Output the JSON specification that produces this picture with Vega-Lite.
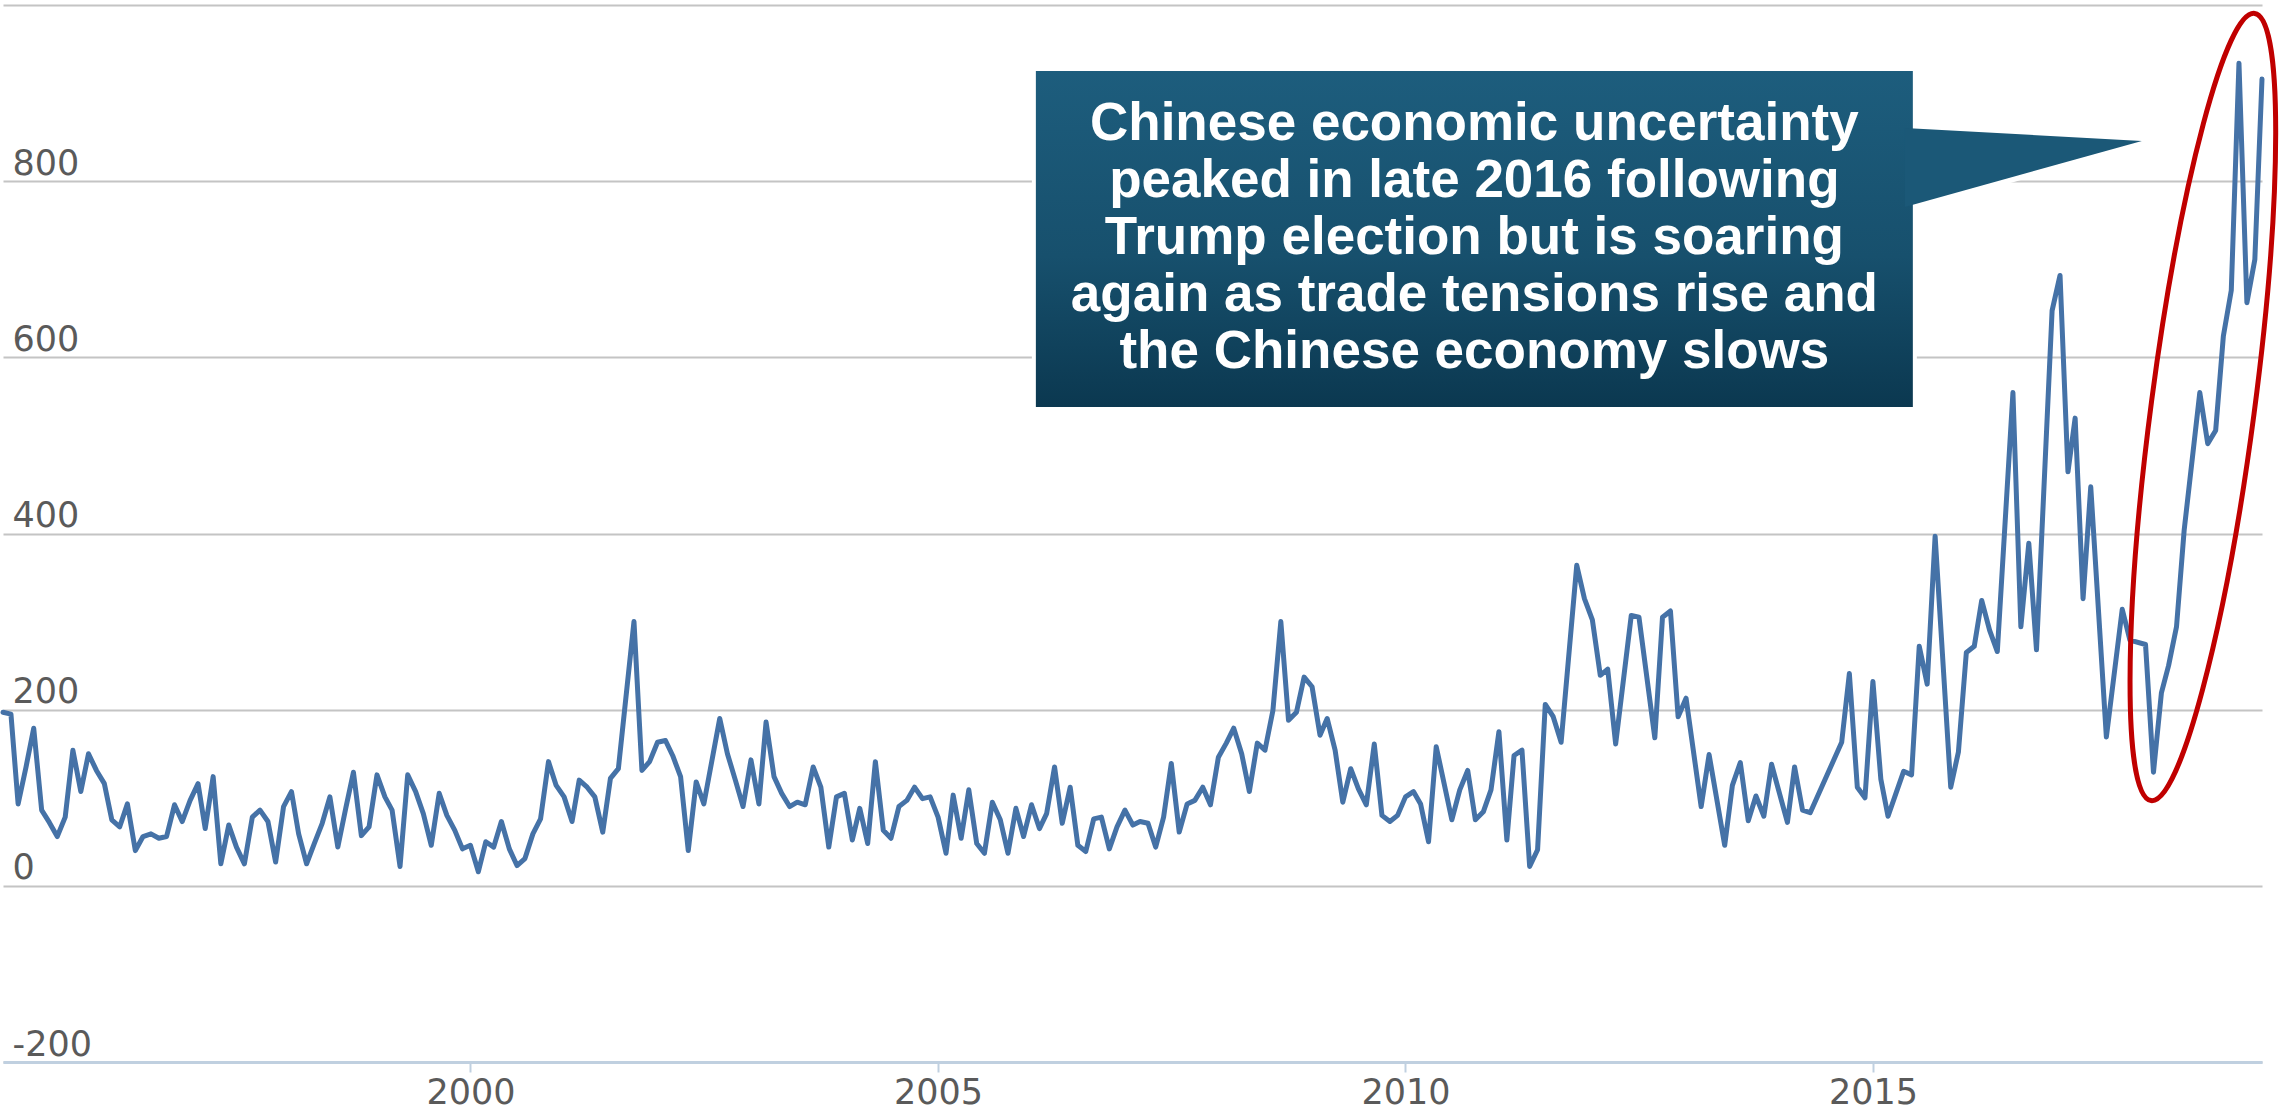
{
  "$schema": "https://vega.github.io/schema/vega-lite/v6.json",
  "width": 2259,
  "height": 1057,
  "autosize": {"type": "none"},
  "padding": {"left": 3, "top": 5, "right": 17, "bottom": 48},
  "background": "white",
  "config": {"view": {"stroke": null}},
  "datasets": {
    "epu": [
      {"date": "1995-01-01", "value": 197}, {"date": "1995-02-01", "value": 195}, {"date": "1995-03-01", "value": 93}, {"date": "1995-04-01", "value": 135}, {"date": "1995-05-01", "value": 179}, {"date": "1995-06-01", "value": 86}, {"date": "1995-07-01", "value": 72}, {"date": "1995-08-01", "value": 56}, {"date": "1995-09-01", "value": 78}, {"date": "1995-10-01", "value": 154}, {"date": "1995-11-01", "value": 107}, {"date": "1995-12-01", "value": 150},
      {"date": "1996-01-01", "value": 131}, {"date": "1996-02-01", "value": 116}, {"date": "1996-03-01", "value": 75}, {"date": "1996-04-01", "value": 67}, {"date": "1996-05-01", "value": 93}, {"date": "1996-06-01", "value": 40}, {"date": "1996-07-01", "value": 56}, {"date": "1996-08-01", "value": 59}, {"date": "1996-09-01", "value": 54}, {"date": "1996-10-01", "value": 56}, {"date": "1996-11-01", "value": 92}, {"date": "1996-12-01", "value": 73},
      {"date": "1997-01-01", "value": 97}, {"date": "1997-02-01", "value": 116}, {"date": "1997-03-01", "value": 65}, {"date": "1997-04-01", "value": 124}, {"date": "1997-05-01", "value": 25}, {"date": "1997-06-01", "value": 69}, {"date": "1997-07-01", "value": 44}, {"date": "1997-08-01", "value": 25}, {"date": "1997-09-01", "value": 78}, {"date": "1997-10-01", "value": 86}, {"date": "1997-11-01", "value": 73}, {"date": "1997-12-01", "value": 27},
      {"date": "1998-01-01", "value": 90}, {"date": "1998-02-01", "value": 107}, {"date": "1998-03-01", "value": 59}, {"date": "1998-04-01", "value": 25}, {"date": "1998-05-01", "value": 48}, {"date": "1998-06-01", "value": 71}, {"date": "1998-07-01", "value": 101}, {"date": "1998-08-01", "value": 44}, {"date": "1998-09-01", "value": 88}, {"date": "1998-10-01", "value": 129}, {"date": "1998-11-01", "value": 57}, {"date": "1998-12-01", "value": 67},
      {"date": "1999-01-01", "value": 126}, {"date": "1999-02-01", "value": 101}, {"date": "1999-03-01", "value": 86}, {"date": "1999-04-01", "value": 22}, {"date": "1999-05-01", "value": 126}, {"date": "1999-06-01", "value": 107}, {"date": "1999-07-01", "value": 82}, {"date": "1999-08-01", "value": 46}, {"date": "1999-09-01", "value": 105}, {"date": "1999-10-01", "value": 80}, {"date": "1999-11-01", "value": 63}, {"date": "1999-12-01", "value": 42},
      {"date": "2000-01-01", "value": 46}, {"date": "2000-02-01", "value": 16}, {"date": "2000-03-01", "value": 50}, {"date": "2000-04-01", "value": 44}, {"date": "2000-05-01", "value": 73}, {"date": "2000-06-01", "value": 42}, {"date": "2000-07-01", "value": 23}, {"date": "2000-08-01", "value": 31}, {"date": "2000-09-01", "value": 59}, {"date": "2000-10-01", "value": 76}, {"date": "2000-11-01", "value": 141}, {"date": "2000-12-01", "value": 114},
      {"date": "2001-01-01", "value": 101}, {"date": "2001-02-01", "value": 73}, {"date": "2001-03-01", "value": 120}, {"date": "2001-04-01", "value": 112}, {"date": "2001-05-01", "value": 101}, {"date": "2001-06-01", "value": 61}, {"date": "2001-07-01", "value": 122}, {"date": "2001-08-01", "value": 133}, {"date": "2001-10-01", "value": 300}, {"date": "2001-11-01", "value": 131}, {"date": "2001-12-01", "value": 141},
      {"date": "2002-01-01", "value": 163}, {"date": "2002-02-01", "value": 165}, {"date": "2002-03-01", "value": 148}, {"date": "2002-04-01", "value": 124}, {"date": "2002-05-01", "value": 40}, {"date": "2002-06-01", "value": 118}, {"date": "2002-07-01", "value": 93}, {"date": "2002-09-01", "value": 190}, {"date": "2002-10-01", "value": 150}, {"date": "2002-11-01", "value": 120}, {"date": "2002-12-01", "value": 90},
      {"date": "2003-01-01", "value": 143}, {"date": "2003-02-01", "value": 93}, {"date": "2003-03-01", "value": 186}, {"date": "2003-04-01", "value": 124}, {"date": "2003-05-01", "value": 105}, {"date": "2003-06-01", "value": 90}, {"date": "2003-07-01", "value": 95}, {"date": "2003-08-01", "value": 92}, {"date": "2003-09-01", "value": 135}, {"date": "2003-10-01", "value": 112}, {"date": "2003-11-01", "value": 44}, {"date": "2003-12-01", "value": 101},
      {"date": "2004-01-01", "value": 105}, {"date": "2004-02-01", "value": 52}, {"date": "2004-03-01", "value": 88}, {"date": "2004-04-01", "value": 48}, {"date": "2004-05-01", "value": 141}, {"date": "2004-06-01", "value": 63}, {"date": "2004-07-01", "value": 54}, {"date": "2004-08-01", "value": 90}, {"date": "2004-09-01", "value": 97}, {"date": "2004-10-01", "value": 112}, {"date": "2004-11-01", "value": 99}, {"date": "2004-12-01", "value": 101},
      {"date": "2005-01-01", "value": 78}, {"date": "2005-02-01", "value": 37}, {"date": "2005-03-01", "value": 103}, {"date": "2005-04-01", "value": 54}, {"date": "2005-05-01", "value": 109}, {"date": "2005-06-01", "value": 48}, {"date": "2005-07-01", "value": 37}, {"date": "2005-08-01", "value": 95}, {"date": "2005-09-01", "value": 75}, {"date": "2005-10-01", "value": 37}, {"date": "2005-11-01", "value": 88}, {"date": "2005-12-01", "value": 56},
      {"date": "2006-01-01", "value": 92}, {"date": "2006-02-01", "value": 65}, {"date": "2006-03-01", "value": 82}, {"date": "2006-04-01", "value": 135}, {"date": "2006-05-01", "value": 71}, {"date": "2006-06-01", "value": 112}, {"date": "2006-07-01", "value": 46}, {"date": "2006-08-01", "value": 39}, {"date": "2006-09-01", "value": 76}, {"date": "2006-10-01", "value": 78}, {"date": "2006-11-01", "value": 42}, {"date": "2006-12-01", "value": 67},
      {"date": "2007-01-01", "value": 86}, {"date": "2007-02-01", "value": 69}, {"date": "2007-03-01", "value": 73}, {"date": "2007-04-01", "value": 71}, {"date": "2007-05-01", "value": 44}, {"date": "2007-06-01", "value": 78}, {"date": "2007-07-01", "value": 139}, {"date": "2007-08-01", "value": 61}, {"date": "2007-09-01", "value": 93}, {"date": "2007-10-01", "value": 97}, {"date": "2007-11-01", "value": 112}, {"date": "2007-12-01", "value": 92},
      {"date": "2008-01-01", "value": 146}, {"date": "2008-02-01", "value": 162}, {"date": "2008-03-01", "value": 179}, {"date": "2008-04-01", "value": 150}, {"date": "2008-05-01", "value": 107}, {"date": "2008-06-01", "value": 162}, {"date": "2008-07-01", "value": 154}, {"date": "2008-08-01", "value": 199}, {"date": "2008-09-01", "value": 300}, {"date": "2008-10-01", "value": 188}, {"date": "2008-11-01", "value": 197}, {"date": "2008-12-01", "value": 237},
      {"date": "2009-01-01", "value": 226}, {"date": "2009-02-01", "value": 171}, {"date": "2009-03-01", "value": 190}, {"date": "2009-04-01", "value": 154}, {"date": "2009-05-01", "value": 95}, {"date": "2009-06-01", "value": 133}, {"date": "2009-07-01", "value": 110}, {"date": "2009-08-01", "value": 92}, {"date": "2009-09-01", "value": 161}, {"date": "2009-10-01", "value": 80}, {"date": "2009-11-01", "value": 73}, {"date": "2009-12-01", "value": 80},
      {"date": "2010-01-01", "value": 101}, {"date": "2010-02-01", "value": 107}, {"date": "2010-03-01", "value": 93}, {"date": "2010-04-01", "value": 50}, {"date": "2010-05-01", "value": 158}, {"date": "2010-06-01", "value": 116}, {"date": "2010-07-01", "value": 75}, {"date": "2010-08-01", "value": 109}, {"date": "2010-09-01", "value": 131}, {"date": "2010-10-01", "value": 75}, {"date": "2010-11-01", "value": 84}, {"date": "2010-12-01", "value": 109},
      {"date": "2011-01-01", "value": 175}, {"date": "2011-02-01", "value": 52}, {"date": "2011-03-01", "value": 148}, {"date": "2011-04-01", "value": 154}, {"date": "2011-05-01", "value": 22}, {"date": "2011-06-01", "value": 41}, {"date": "2011-07-01", "value": 206}, {"date": "2011-08-01", "value": 192}, {"date": "2011-09-01", "value": 163}, {"date": "2011-11-01", "value": 364}, {"date": "2011-12-01", "value": 326},
      {"date": "2012-01-01", "value": 302}, {"date": "2012-02-01", "value": 239}, {"date": "2012-03-01", "value": 246}, {"date": "2012-04-01", "value": 161}, {"date": "2012-06-01", "value": 307}, {"date": "2012-07-01", "value": 305}, {"date": "2012-09-01", "value": 168}, {"date": "2012-10-01", "value": 305}, {"date": "2012-11-01", "value": 312}, {"date": "2012-12-01", "value": 192},
      {"date": "2013-01-01", "value": 213}, {"date": "2013-03-01", "value": 90}, {"date": "2013-04-01", "value": 149}, {"date": "2013-06-01", "value": 46}, {"date": "2013-07-01", "value": 114}, {"date": "2013-08-01", "value": 140}, {"date": "2013-09-01", "value": 74}, {"date": "2013-10-01", "value": 102}, {"date": "2013-11-01", "value": 79}, {"date": "2013-12-01", "value": 138},
      {"date": "2014-02-01", "value": 72}, {"date": "2014-03-01", "value": 135}, {"date": "2014-04-01", "value": 86}, {"date": "2014-05-01", "value": 83}, {"date": "2014-09-01", "value": 163}, {"date": "2014-10-01", "value": 241}, {"date": "2014-11-01", "value": 112}, {"date": "2014-12-01", "value": 100},
      {"date": "2015-01-01", "value": 232}, {"date": "2015-02-01", "value": 121}, {"date": "2015-03-01", "value": 79}, {"date": "2015-04-01", "value": 105}, {"date": "2015-05-01", "value": 130}, {"date": "2015-06-01", "value": 126}, {"date": "2015-07-01", "value": 272}, {"date": "2015-08-01", "value": 229}, {"date": "2015-09-01", "value": 397}, {"date": "2015-11-01", "value": 112}, {"date": "2015-12-01", "value": 152},
      {"date": "2016-01-01", "value": 265}, {"date": "2016-02-01", "value": 272}, {"date": "2016-03-01", "value": 324}, {"date": "2016-04-01", "value": 290}, {"date": "2016-05-01", "value": 266}, {"date": "2016-07-01", "value": 560}, {"date": "2016-08-01", "value": 294}, {"date": "2016-09-01", "value": 389}, {"date": "2016-10-01", "value": 268}, {"date": "2016-12-01", "value": 653},
      {"date": "2017-01-01", "value": 693}, {"date": "2017-02-01", "value": 470}, {"date": "2017-03-01", "value": 531}, {"date": "2017-04-01", "value": 326}, {"date": "2017-05-01", "value": 453}, {"date": "2017-07-01", "value": 169}, {"date": "2017-09-01", "value": 314}, {"date": "2017-10-01", "value": 279}, {"date": "2017-12-01", "value": 274},
      {"date": "2018-01-01", "value": 129}, {"date": "2018-02-01", "value": 219}, {"date": "2018-03-01", "value": 250}, {"date": "2018-04-01", "value": 294}, {"date": "2018-05-01", "value": 404}, {"date": "2018-07-01", "value": 560}, {"date": "2018-08-01", "value": 502}, {"date": "2018-09-01", "value": 517}, {"date": "2018-10-01", "value": 624}, {"date": "2018-11-01", "value": 676}, {"date": "2018-12-01", "value": 934},
      {"date": "2019-01-01", "value": 662}, {"date": "2019-02-01", "value": 711}, {"date": "2019-03-01", "value": 916}
    ]
  },
  "layer": [
    {
      "data": {"name": "epu"},
      "mark": {"type": "line", "color": "#4572A7", "strokeWidth": 5, "strokeJoin": "round", "strokeCap": "round"},
      "encoding": {
        "x": {
          "field": "date", "type": "temporal",
          "scale": {"type": "utc", "domain": [{"year": 1995, "month": 1, "date": 1, "utc": true}, {"year": 2019, "month": 3, "date": 1, "utc": true}]},
          "axis": {
            "values": [{"year": 2000, "month": 1, "date": 1, "utc": true}, {"year": 2005, "month": 1, "date": 1, "utc": true}, {"year": 2010, "month": 1, "date": 1, "utc": true}, {"year": 2015, "month": 1, "date": 1, "utc": true}],
            "format": "%Y", "formatType": "utc",
            "grid": false, "title": null,
            "domainColor": "#C0D0E0", "domainWidth": 3,
            "tickColor": "#C0D0E0", "tickWidth": 2, "tickSize": 10,
            "labelFont": "DejaVu Sans", "labelFontSize": 35, "labelColor": "#5a5a5a",
            "labelPadding": 3, "labelFlush": false, "labelOverlap": false, "zindex": 1
          }
        },
        "y": {
          "field": "value", "type": "quantitative",
          "scale": {"domain": [-200, 1000], "nice": false, "zero": false},
          "axis": {
            "values": [-200, 0, 200, 400, 600, 800, 1000],
            "grid": true, "gridColor": "#C4C4C4", "gridWidth": 2,
            "domain": false, "ticks": false, "tickSize": 0, "title": null,
            "labelAlign": "left", "labelBaseline": "bottom", "labelPadding": -9,
            "labelFont": "DejaVu Sans", "labelFontSize": 35, "labelColor": "#5a5a5a",
            "labelExpr": "datum.value >= 1000 ? '' : replace(datum.label, '\u2212', '-')",
            "labelOverlap": false, "labelFlush": false, "labelBound": false
          }
        }
      }
    },
    {
      "data": {"values": [{}]},
      "mark": {"type": "point", "shape": "M0.1305,-0.9914 C0.2017,-0.982 0.201,-0.5306 0.1289,0.017 C0.0568,0.5646 -0.0593,1.0008 -0.1305,0.9914 C-0.2017,0.982 -0.201,0.5306 -0.1289,-0.017 C-0.0568,-0.5646 0.0593,-1.0008 0.1305,-0.9914 Z", "size": 630436, "filled": false, "color": "#C00000", "stroke": "#C00000", "strokeWidth": 5, "opacity": 1},
      "encoding": {
        "x": {"datum": {"year": 2018, "month": 7, "date": 13, "utc": true}, "type": "temporal"},
        "y": {"datum": 543.6, "type": "quantitative"}
      }
    },
    {
      "data": {"values": [{}]},
      "mark": {"type": "rect", "fill": "white", "stroke": "white", "strokeWidth": 8},
      "encoding": {
        "x": {"datum": {"year": 2006, "month": 1, "date": 18, "utc": true}, "type": "temporal"},
        "x2": {"datum": {"year": 2015, "month": 6, "date": 6, "utc": true}},
        "y": {"datum": 925.1, "type": "quantitative"},
        "y2": {"datum": 543.6}
      }
    },
    {
      "data": {"values": [{}]},
      "mark": {"type": "point", "shape": "M0,-0.13 L2.29,0 L0,0.66 Z", "size": 40000, "filled": true, "fill": "white", "stroke": "white", "strokeWidth": 8, "opacity": 1},
      "encoding": {
        "x": {"datum": {"year": 2015, "month": 6, "date": 6, "utc": true}, "type": "temporal"},
        "y": {"datum": 845.6, "type": "quantitative"}
      }
    },
    {
      "data": {"values": [{}]},
      "mark": {"type": "rect", "fill": {"gradient": "linear", "x1": 0, "y1": 0, "x2": 0, "y2": 1, "stops": [{"offset": 0, "color": "#1d5d7d"}, {"offset": 0.55, "color": "#17506d"}, {"offset": 1, "color": "#0b3850"}]}},
      "encoding": {
        "x": {"datum": {"year": 2006, "month": 1, "date": 18, "utc": true}, "type": "temporal"},
        "x2": {"datum": {"year": 2015, "month": 6, "date": 6, "utc": true}},
        "y": {"datum": 925.1, "type": "quantitative"},
        "y2": {"datum": 543.6}
      }
    },
    {
      "data": {"values": [{}]},
      "mark": {"type": "point", "shape": "M-0.08,-0.13 L2.29,0 L-0.08,0.66 Z", "size": 40000, "filled": true, "fill": "#1b5877", "strokeWidth": 0, "opacity": 1},
      "encoding": {
        "x": {"datum": {"year": 2015, "month": 6, "date": 6, "utc": true}, "type": "temporal"},
        "y": {"datum": 845.6, "type": "quantitative"}
      }
    },
    {
      "data": {"values": [{}]},
      "mark": {
        "type": "text",
        "text": ["Chinese economic uncertainty", "peaked in late 2016 following", "Trump election but is soaring", "again as trade tensions rise and", "the Chinese economy slows"],
        "font": "Liberation Sans", "fontWeight": "bold", "fontSize": 53, "lineHeight": 57,
        "align": "center", "baseline": "middle", "color": "white"
      },
      "encoding": {
        "x": {"datum": {"year": 2010, "month": 9, "date": 27, "utc": true}, "type": "temporal"},
        "y": {"datum": 865, "type": "quantitative"}
      }
    }
  ]
}
